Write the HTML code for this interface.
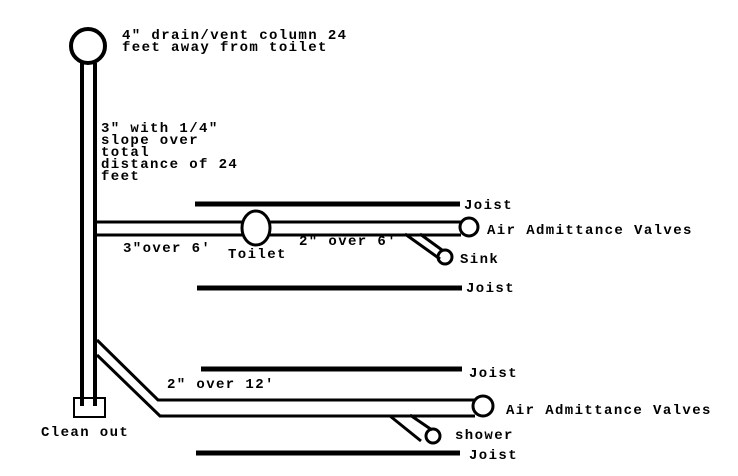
<!DOCTYPE html>
<html><head><meta charset="utf-8"><style>
html,body{margin:0;padding:0;background:#fff;}
svg{display:block;}
text{font-family:"Liberation Mono",monospace;font-size:14px;font-weight:bold;letter-spacing:1.4px;fill:#000;}
</style></head><body>
<svg width="738" height="476" viewBox="0 0 738 476" xmlns="http://www.w3.org/2000/svg">
<rect width="738" height="476" fill="#fff"/>
<g stroke="#000" fill="none">
<circle cx="88" cy="46" r="17" stroke-width="4"/>
<line x1="82" y1="63" x2="82" y2="406" stroke-width="4"/>
<line x1="95" y1="63" x2="95" y2="406" stroke-width="4"/>
<rect x="74" y="398" width="31" height="19" stroke-width="2"/>
<line x1="95" y1="222" x2="244" y2="222" stroke-width="3"/>
<line x1="95" y1="235" x2="244" y2="235" stroke-width="3"/>
<ellipse cx="256" cy="228" rx="14" ry="17" stroke-width="3"/>
<line x1="270" y1="222" x2="461" y2="222" stroke-width="3"/>
<line x1="270" y1="235" x2="461" y2="235" stroke-width="3"/>
<circle cx="469" cy="227" r="9" stroke-width="3"/>
<line x1="405" y1="234" x2="440" y2="259" stroke-width="3"/>
<line x1="420" y1="234" x2="442" y2="250" stroke-width="3"/>
<circle cx="445" cy="257" r="7" stroke-width="3"/>
<line x1="195" y1="204" x2="460" y2="204" stroke-width="5"/>
<line x1="197" y1="288" x2="462" y2="288" stroke-width="5"/>
<line x1="201" y1="369" x2="462" y2="369" stroke-width="5"/>
<line x1="196" y1="453" x2="460" y2="453" stroke-width="5"/>
<polyline points="97,340 158,400 475,400" stroke-width="3"/>
<polyline points="97,355 160,416 475,416" stroke-width="3"/>
<circle cx="483" cy="406" r="10" stroke-width="3"/>
<line x1="390" y1="416" x2="421" y2="441" stroke-width="3"/>
<line x1="410" y1="415" x2="432" y2="430" stroke-width="3"/>
<circle cx="433" cy="436" r="7" stroke-width="3"/>
</g>
<text x="122" y="39">4" drain/vent column 24</text>
<text x="122" y="51">feet away from toilet</text>
<text x="101" y="132">3" with 1/4"</text>
<text x="101" y="144">slope over</text>
<text x="101" y="156">total</text>
<text x="101" y="168">distance of 24</text>
<text x="101" y="180">feet</text>
<text x="464" y="209">Joist</text>
<text x="487" y="234">Air Admittance Valves</text>
<text x="123" y="252">3"over 6'</text>
<text x="228" y="258">Toilet</text>
<text x="299" y="245">2" over 6'</text>
<text x="460" y="263">Sink</text>
<text x="466" y="292">Joist</text>
<text x="469" y="377">Joist</text>
<text x="167" y="388">2" over 12'</text>
<text x="506" y="414">Air Admittance Valves</text>
<text x="41" y="436">Clean out</text>
<text x="455" y="439">shower</text>
<text x="469" y="459">Joist</text>
</svg>
</body></html>
